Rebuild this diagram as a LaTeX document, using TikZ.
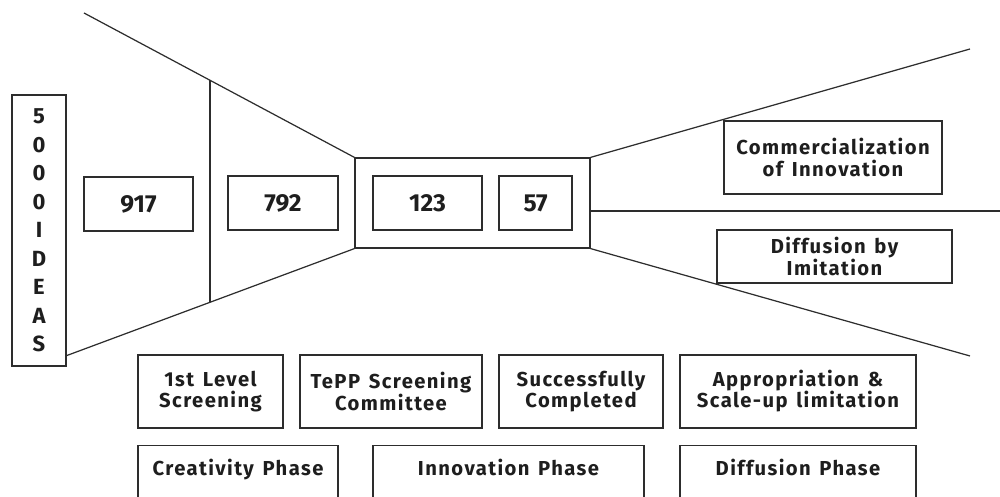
\documentclass[tikz,border=0pt]{standalone}
\usepackage{fontspec}
\setmainfont{Fira Sans}[LetterSpace=7, WordSpace=1.4]
\newfontfamily\numfont{Fira Sans}
\usetikzlibrary{positioning, calc}
\definecolor{fnlline}{RGB}{45, 45, 45}
\definecolor{fnltext}{RGB}{30, 30, 30}

\begin{document}
\begin{tikzpicture}[
    box/.style={rectangle, draw=fnlline, line width=0.7pt, inner sep=0pt, align=center, text=fnltext, font=\fontsize{11.5}{12}\selectfont\bfseries},
    numbox/.style={box, minimum height=1.08cm, font=\numfont\fontsize{14}{16}\selectfont\bfseries},
    stagebox/.style={box, minimum height=1.46cm},
    phase/.style={box, anchor=north, text height=0.6cm, text depth=0.9cm},
    edge/.style={draw=fnlline, line width=0.7pt}
]
\useasboundingbox (0,0) rectangle (20,9.94);
\clip (0,0) rectangle (20,9.94);

% === Embudo: ideas y filtros ===
\node[box, minimum width=1.08cm, minimum height=5.42cm, font=\numfont\fontsize{12.5}{16.2}\selectfont\bfseries] (ideas) at (0.78, 5.33) {5\\0\\0\\0\\I\\D\\E\\A\\S};

\node[numbox, minimum width=2.18cm] (n917) at (2.77, 5.86) {917};
\node[numbox, minimum width=2.20cm] (n792) at (5.66, 5.88) {792};

% Caja interior
\node[box, minimum width=4.70cm, minimum height=1.80cm] (inner) at (9.45, 5.88) {};
\node[numbox, minimum width=2.18cm] (n123) at (8.55, 5.88) {123};
\node[numbox, minimum width=1.46cm] (n57) at (10.71, 5.88) {57};

% Extremos libres
\coordinate (topstart) at (1.68, 9.68);
\coordinate (upend) at (19.40, 8.96);
\coordinate (midend) at (20, 5.72);
\coordinate (lowend) at (19.40, 2.82);

% Lados del embudo
\draw[edge] (topstart) -- coordinate[pos=0.465] (vtop) (inner.north west);
\draw[edge] ($(ideas.south east)+(0,0.22)$) -- coordinate[pos=0.498] (vbot) (inner.south west);
\draw[edge] (vbot) -- (vbot |- vtop);

% Salida
\draw[edge] (inner.north east) -- (upend);
\draw[edge] ($(inner.east)+(0,-0.16)$) -- (midend);
\draw[edge] (inner.south east) -- (lowend);

\node[box, minimum width=4.36cm, minimum height=1.46cm] (comm) at (16.66, 6.79) {Commercialization\\of Innovation};
\node[box, minimum width=4.70cm, minimum height=1.06cm] (imit) at (16.69, 4.81) {Diffusion by\\Imitation};

% === Etapas ===
\node[stagebox, minimum width=2.90cm] (level) at (4.21, 2.11) {1st Level\\Screening};
\node[stagebox, minimum width=3.64cm] (tepp) at (7.82, 2.11) {TePP Screening\\Committee};
\node[stagebox, minimum width=3.28cm] (done) at (11.62, 2.11) {Successfully\\Completed};
\node[stagebox, minimum width=4.72cm] (approp) at (15.96, 2.11) {Appropriation \&\\Scale-up limitation};

% === Fases ===
\node[phase, minimum width=4.00cm] (creat) at (4.76, 1.04) {Creativity Phase};
\node[phase, minimum width=5.42cm] (innov) at (10.17, 1.04) {Innovation Phase};
\node[phase, minimum width=4.72cm] (diff) at (15.96, 1.04) {Diffusion Phase};

\end{tikzpicture}
\end{document}
